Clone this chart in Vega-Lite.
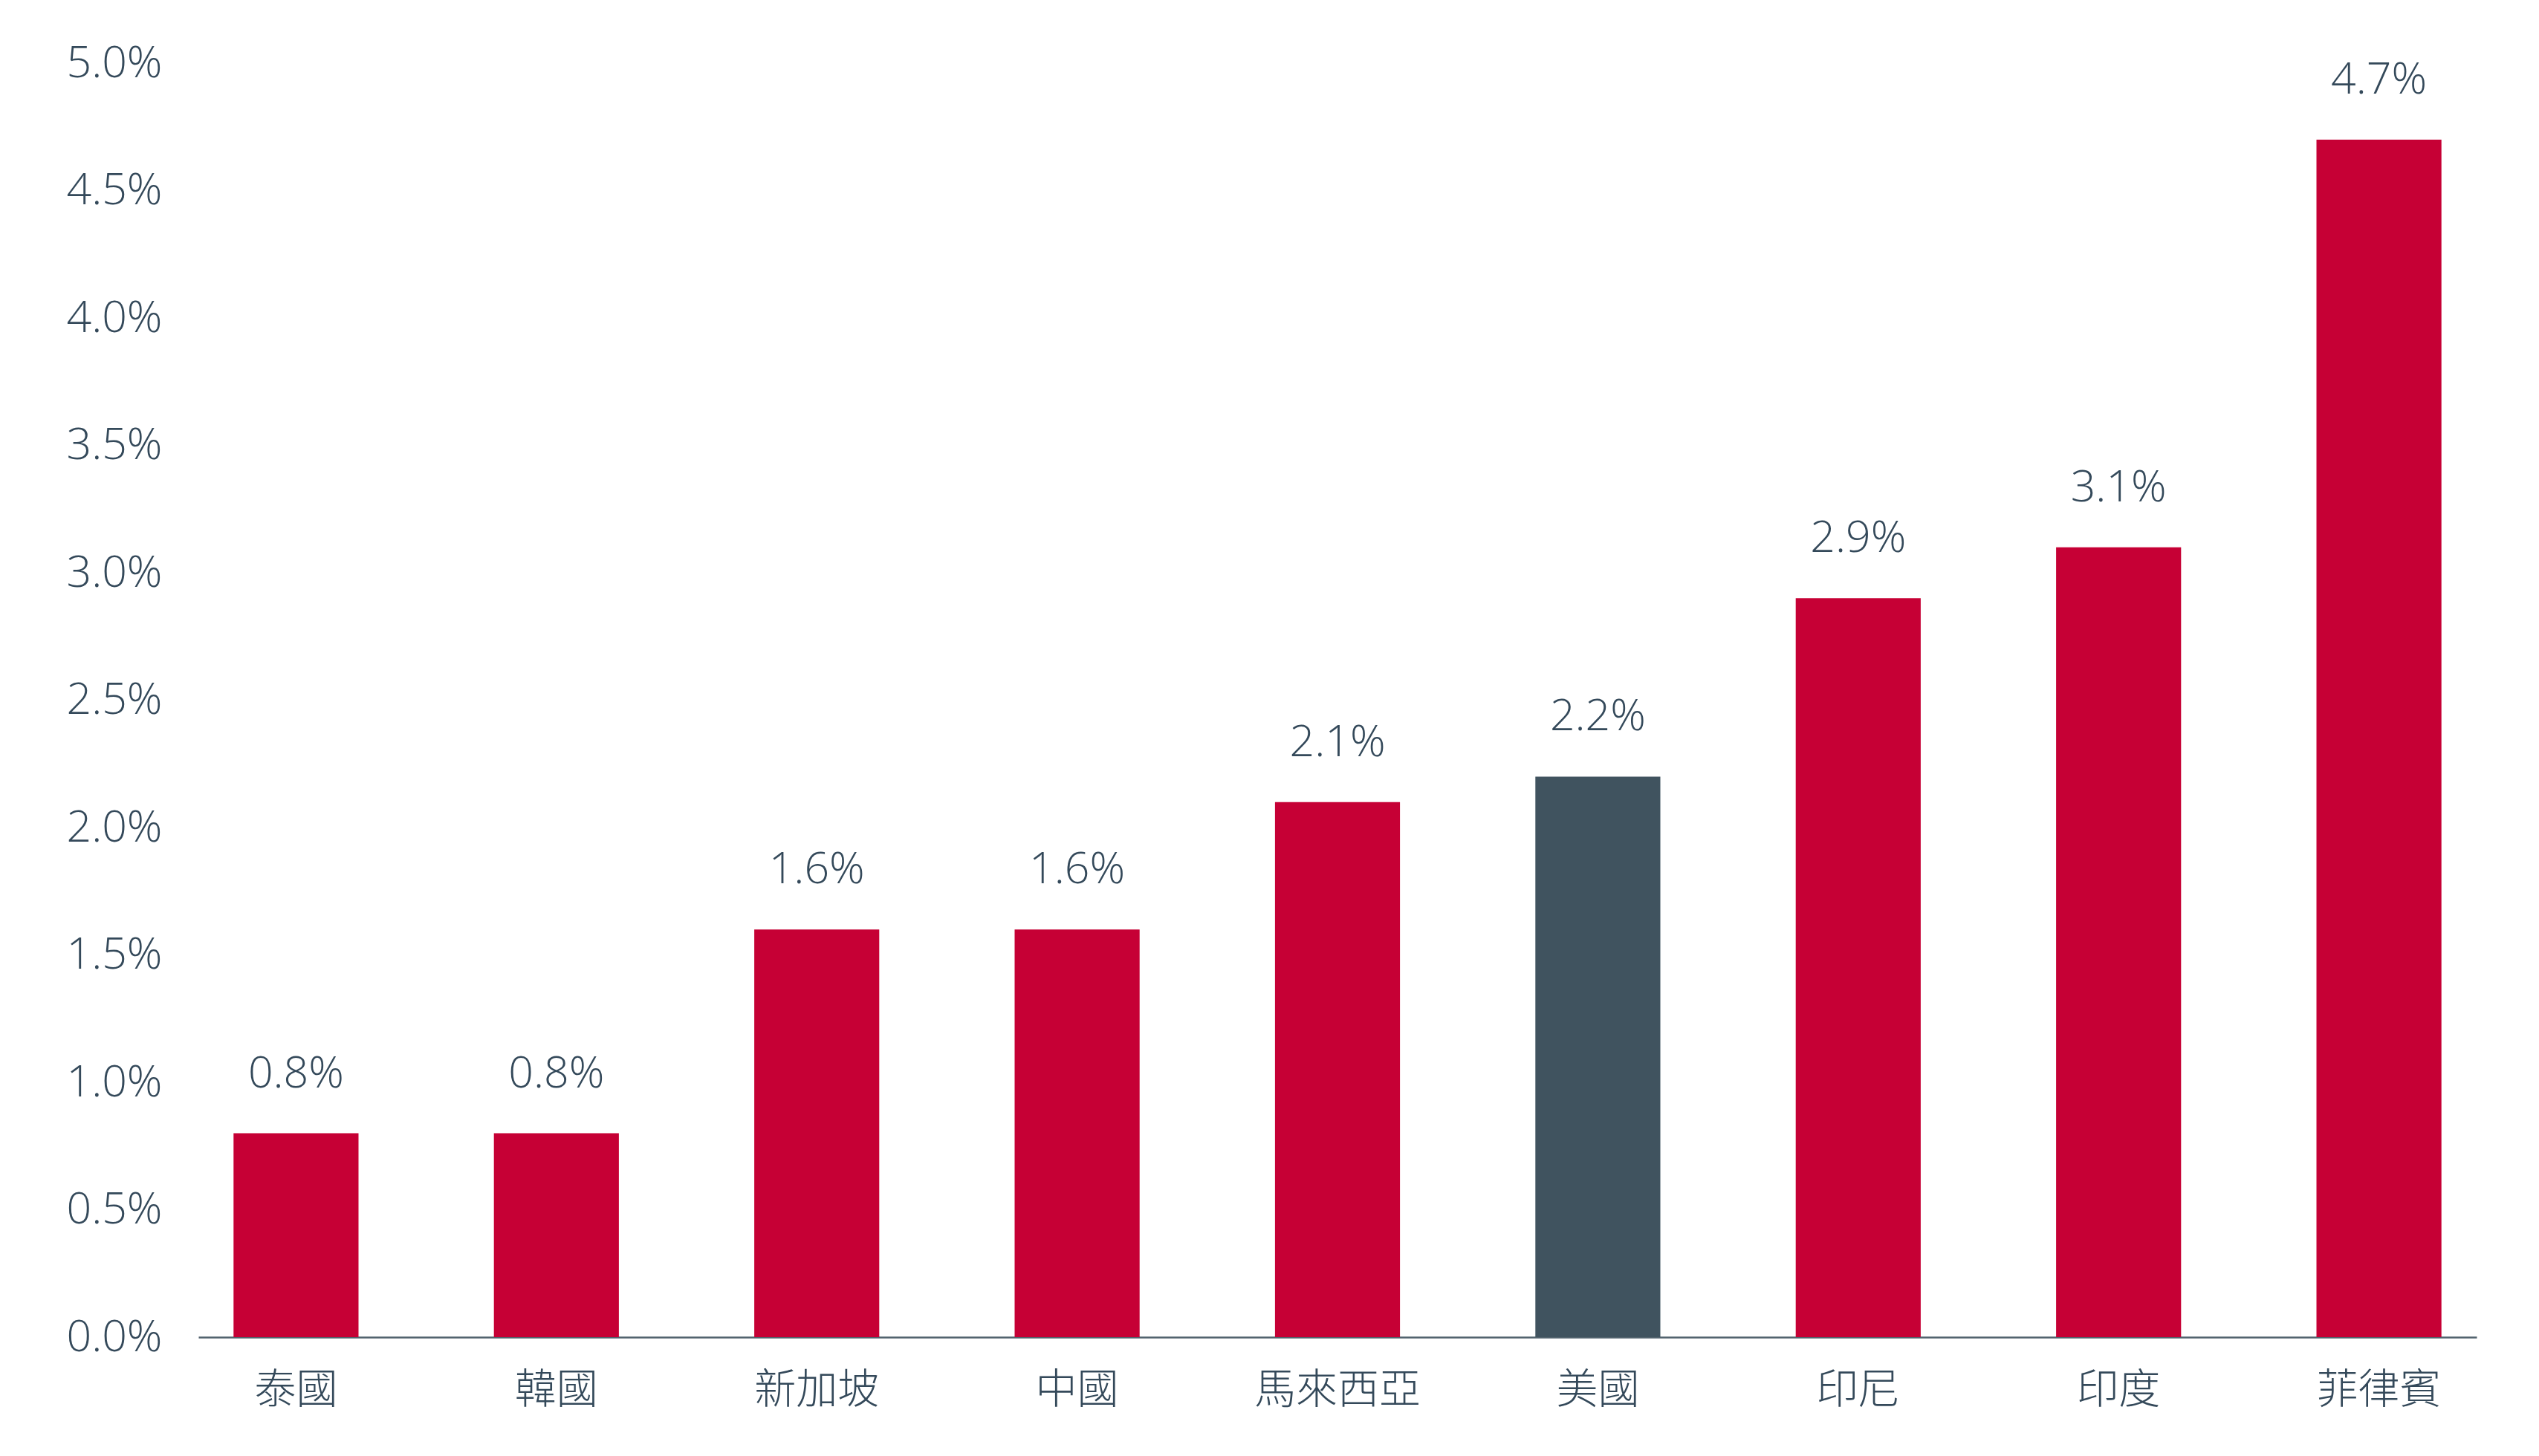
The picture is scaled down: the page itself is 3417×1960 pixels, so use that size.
{
  "$schema": "https://vega.github.io/schema/vega-lite/v6.json",
  "width": 3066,
  "height": 1715,
  "autosize": {"type": "none"},
  "padding": {"left": 267, "top": 85, "right": 84, "bottom": 160},
  "background": "white",
  "data": {
    "values": [
      {"country": "泰國", "value": 0.008},
      {"country": "韓國", "value": 0.008},
      {"country": "新加坡", "value": 0.016},
      {"country": "中國", "value": 0.016},
      {"country": "馬來西亞", "value": 0.021},
      {"country": "美國", "value": 0.022},
      {"country": "印尼", "value": 0.029},
      {"country": "印度", "value": 0.031},
      {"country": "菲律賓", "value": 0.047}
    ]
  },
  "encoding": {
    "x": {
      "field": "country",
      "type": "nominal",
      "sort": null,
      "title": null,
      "scale": {"paddingInner": 0.52, "paddingOuter": 0.135},
      "axis": {
        "labelAngle": 0,
        "labelLimit": 0,
        "ticks": false,
        "domainColor": "#52636e",
        "domainWidth": 2.5,
        "domainOpacity": 1,
        "labelPadding": 44,
        "labelFont": "Noto Sans CJK TC",
        "labelFontSize": 56,
        "labelFontWeight": 300,
        "labelColor": "#34495a"
      }
    },
    "y": {
      "field": "value",
      "type": "quantitative",
      "title": null,
      "scale": {"domain": [0, 0.05], "nice": false},
      "axis": {
        "values": [0, 0.005, 0.01, 0.015, 0.02, 0.025, 0.03, 0.035, 0.04, 0.045, 0.05],
        "format": ".1%",
        "domain": false,
        "ticks": false,
        "grid": false,
        "labelPadding": 49,
        "labelFont": "Open Sans",
        "labelFontSize": 59,
        "labelFontWeight": 300,
        "labelColor": "#34495a"
      }
    }
  },
  "layer": [
    {
      "mark": {"type": "bar"},
      "encoding": {
        "color": {
          "condition": {"test": "datum.country === '美國'", "value": "#40535f"},
          "value": "#c60035"
        }
      }
    },
    {
      "mark": {
        "type": "text",
        "baseline": "bottom",
        "dy": -50,
        "font": "Open Sans",
        "fontSize": 59,
        "fontWeight": 300,
        "color": "#34495a"
      },
      "encoding": {
        "text": {"field": "value", "type": "quantitative", "format": ".1%"}
      }
    }
  ],
  "config": {
    "view": {"stroke": null}
  }
}
